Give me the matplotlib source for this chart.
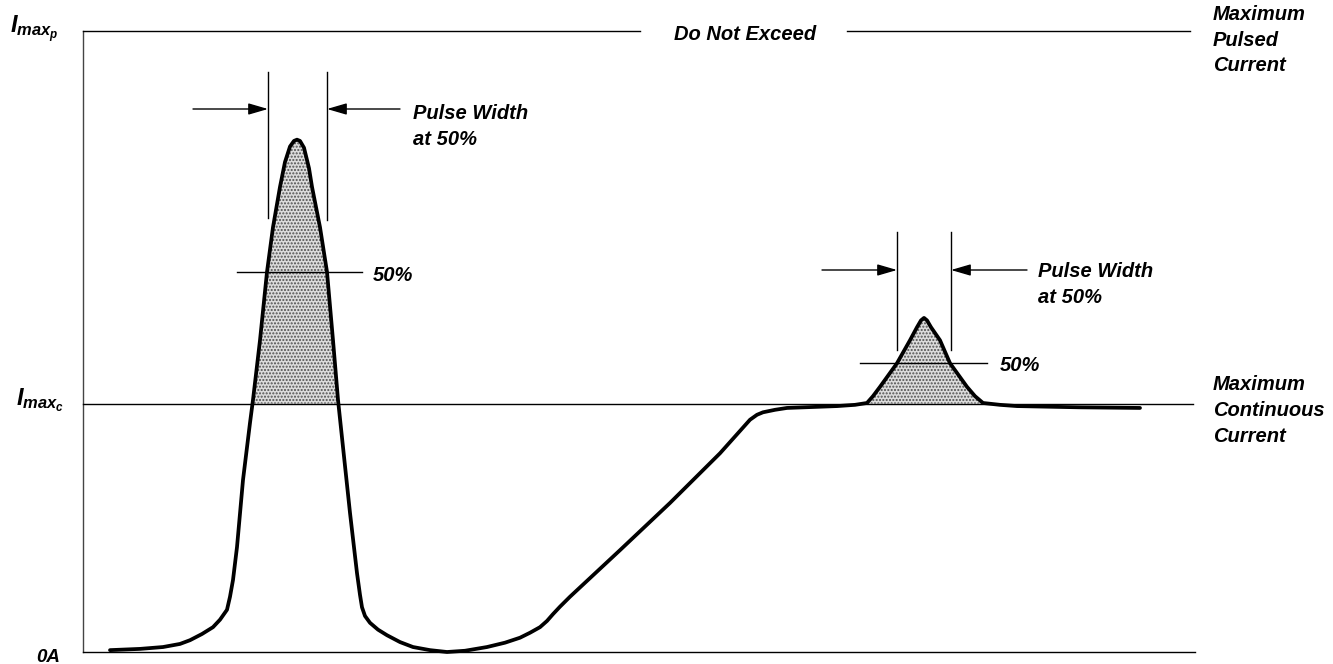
import matplotlib
matplotlib.use("Agg")
import matplotlib.pyplot as plt
import numpy as np

plt.rcParams['mathtext.fontset'] = 'custom'
plt.rcParams['mathtext.it'] = 'Liberation Sans:italic:bold'
plt.rcParams['mathtext.rm'] = 'Liberation Sans:italic:bold'
plt.rcParams['mathtext.bf'] = 'Liberation Sans:italic:bold'
plt.rcParams['hatch.linewidth'] = 1.0

# ---- data (time in arbitrary units, current in % of Imax pulsed) ----
time = [110, 140, 163, 180, 190, 202, 213, 220, 227, 230, 233, 237, 243, 250, 253, 260, 267, 273, 280, 285,
        290, 294, 297, 300, 304, 309, 312, 320, 327, 333, 338, 343, 350, 357, 360, 362, 365, 370, 378, 387,
        400, 413, 430, 447, 465, 487, 505, 520, 530, 540, 547, 553, 560, 570, 620, 670, 720, 750, 757, 763,
        775, 787, 837, 855, 867, 873, 880, 897, 910, 917, 921, 924, 927, 931, 940, 950, 967, 975, 983,
        1000, 1017, 1080, 1140]
current = [0.3, 0.5, 0.8, 1.3, 1.9, 2.9, 4.0, 5.2, 6.8, 8.9, 11.6, 16.9, 27.7, 36.9, 40.6, 50.2, 61.2, 68.4, 74.9, 78.9,
           81.4, 82.3, 82.5, 82.3, 81.2, 77.9, 74.9, 68.4, 61.2, 50.2, 40.6, 33.0, 22.4, 12.7, 9.2, 7.2, 5.8, 4.7, 3.6, 2.7,
           1.6, 0.8, 0.3, 0.0, 0.2, 0.8, 1.5, 2.3, 3.1, 4.0, 5.0, 6.1, 7.3, 8.9, 16.4, 24.0, 32.0, 37.4, 38.2, 38.6,
           39.0, 39.3, 39.6, 39.8, 40.1, 41.2, 42.7, 46.5, 50.2, 52.3, 53.4, 53.8, 53.4, 52.3, 50.2, 46.5, 42.7, 41.2, 40.1,
           39.8, 39.6, 39.4, 39.3]
imax_pulsed = 100.0
imax_cont = 40.0
zero = 0.0
half_big = 61.2
half_small = 46.5

FONT = dict(family='Liberation Sans', weight='bold', style='italic')
FS = 14.5

fig = plt.figure(figsize=(13.33, 6.64), dpi=100)
ax = fig.add_axes([0, 0, 1, 1])
W, H = 1333, 664
# y scale such that 0 -> 652 px, 100 -> 31 px
R = 100 / ((652 - 31) / H)
ymin = -R * (1 - 652 / H)
ax.set_xlim(0, W)
ax.set_ylim(ymin, ymin + R)
ax.axis('off')

def py(px):
    """pixel row -> data y"""
    return ymin + R * (1 - px / H)

t = np.array(time, float)
c = np.array(current, float)

# axes / reference lines
ax.plot([83, 83], [zero, imax_pulsed], color='#444444', lw=1.0)
ax.plot([83, 1195], [zero, zero], color='black', lw=1.0)
ax.plot([83, 1193], [imax_cont, imax_cont], color='black', lw=1.0)
ax.plot([83, 640], [imax_pulsed, imax_pulsed], color='black', lw=1.0)
ax.plot([847, 1190], [imax_pulsed, imax_pulsed], color='black', lw=1.0)

# shaded pulse areas
ax.fill_between(t, imax_cont, c, where=c >= imax_cont, interpolate=True,
                facecolor='#dcdcdc', edgecolor='#505050', hatch='.....', lw=0)

# curve
ax.plot(t, c, color='black', lw=2.7, solid_joinstyle='round', solid_capstyle='round')

# 50% lines
ax.plot([237, 362], [half_big, half_big], color='black', lw=1.0)
ax.plot([860, 987], [half_small, half_small], color='black', lw=1.0)

# pulse-width markers
for x0, top, bot in [(268, 72, 218), (327, 72, 220), (897, 232, 350), (951, 232, 350)]:
    ax.plot([x0, x0], [py(top), py(bot)], color='black', lw=1.0)

arrow = dict(arrowstyle='-|>,head_length=1.2,head_width=0.35', lw=1.0, color='black',
             shrinkA=0, shrinkB=0)
for (xs, xe, yp) in [(193, 268, 109), (400, 327, 109), (822, 897, 270), (1027, 951, 270)]:
    ax.annotate('', xy=(xe, py(yp)), xytext=(xs, py(yp)), arrowprops=arrow)

# texts
LS = 1.45
ax.text(413, py(104), 'Pulse Width\nat 50%', ha='left', va='top', fontsize=FS,
        linespacing=LS, **FONT)
ax.text(1038, py(262), 'Pulse Width\nat 50%', ha='left', va='top', fontsize=FS,
        linespacing=LS, **FONT)
ax.text(373, half_big - 0.6, '50%', ha='left', va='center', fontsize=FS, **FONT)
ax.text(1000, half_small - 0.4, '50%', ha='left', va='center', fontsize=FS, **FONT)
ax.text(745, py(35), 'Do Not Exceed', ha='center', va='center', fontsize=FS, **FONT)
ax.text(1213, py(5), 'Maximum\nPulsed\nCurrent', ha='left', va='top', fontsize=FS,
        linespacing=LS, **FONT)
ax.text(1213, py(375), 'Maximum\nContinuous\nCurrent', ha='left', va='top', fontsize=FS,
        linespacing=LS, **FONT)
ax.text(10, py(33), r'$I_{max_{p}}$', ha='left', va='baseline', fontsize=17)
ax.text(16, py(405), r'$I_{max_{c}}$', ha='left', va='baseline', fontsize=17)
ax.text(36, py(657), '0A', ha='left', va='center', fontsize=13.5, **FONT)

fig.savefig('out.png', dpi=100)
